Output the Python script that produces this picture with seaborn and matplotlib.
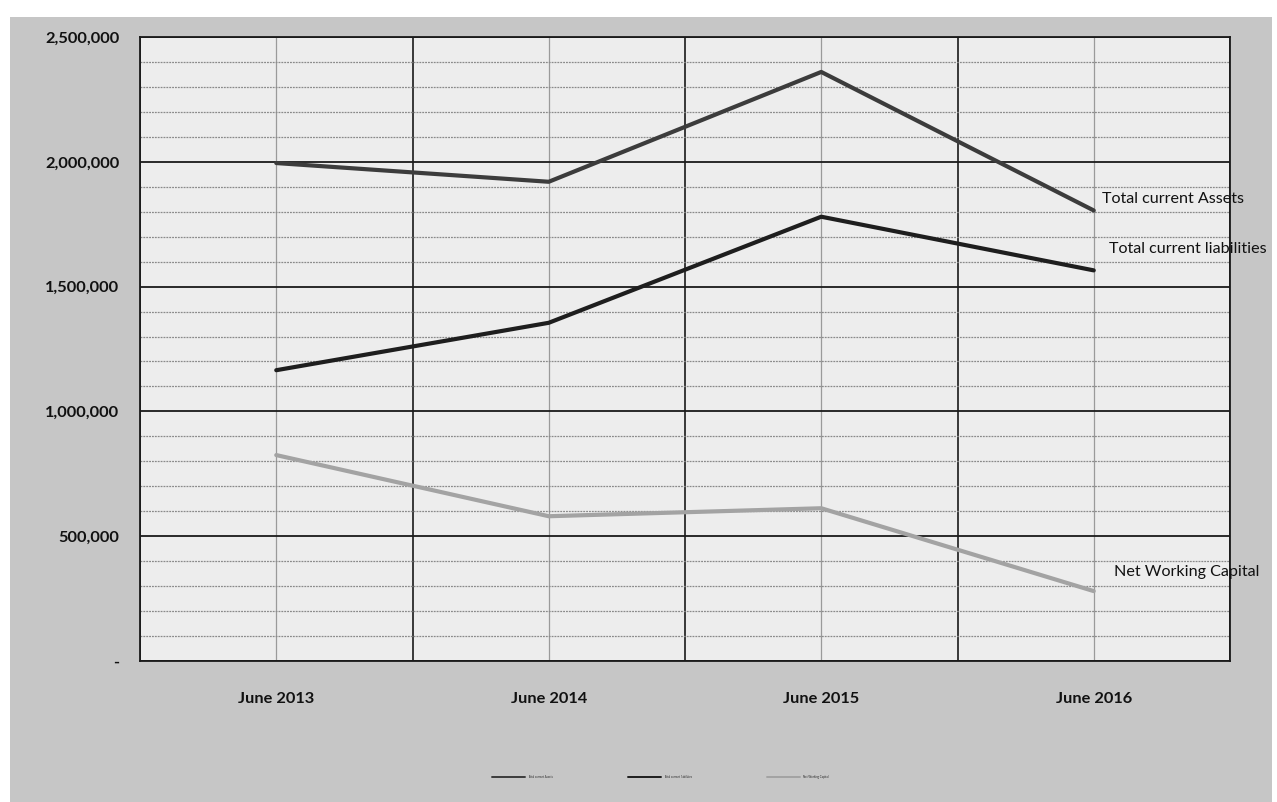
import numpy as np
import pandas as pd
import matplotlib
matplotlib.use("Agg")
import matplotlib.pyplot as plt
from matplotlib.ticker import MultipleLocator, FixedLocator, FuncFormatter
from matplotlib.patches import Rectangle
import seaborn as sns

# ---- data ----
periods = ["June 2013", "June 2014", "June 2015", "June 2016"]
current_assets = [1995000, 1920000, 2360000, 1805000]
current_liabilities = [1165000, 1355000, 1780000, 1565000]
net_working_capital = [825000, 580000, 612000, 280000]
series_names = ["Total current Assets", "Total current liabilities", "Net Working Capital"]
y_ticks = [0, 500000, 1000000, 1500000, 2000000, 2500000]

df = pd.DataFrame({
    "period": periods * 3,
    "value": current_assets + current_liabilities + net_working_capital,
    "series": [s for s in series_names for _ in periods],
})

sns.set_style("white")
plt.rcParams["font.family"] = ["Lato", "DejaVu Sans"]

fig = plt.figure(figsize=(12.77, 8.02), dpi=100, facecolor="white")
# scanned page panel behind everything
fig.patches.append(Rectangle((10 / 1277, 0), 1262 / 1277, 785 / 802,
                             transform=fig.transFigure, facecolor="#c6c6c6",
                             edgecolor="none", zorder=-10))

ax = fig.add_axes([140 / 1277, 1 - 661 / 802, 1090 / 1277, 624 / 802])
ax.set_facecolor("#ededed")

palette = {"Total current Assets": "#3c3c3c",
           "Total current liabilities": "#1e1e1e",
           "Net Working Capital": "#a3a3a3"}
sns.lineplot(data=df, x="period", y="value", hue="series", palette=palette,
             linewidth=3.0, ax=ax, legend=True, sort=False)

ax.set_xlim(-0.5, 3.5)
ax.set_ylim(0, 2500000)

# gridlines: dark at majors / category boundaries, grey at minors / centers
ax.yaxis.set_major_locator(FixedLocator(y_ticks))
ax.yaxis.set_minor_locator(MultipleLocator(100000))
ax.xaxis.set_minor_locator(FixedLocator([-0.5, 0.5, 1.5, 2.5, 3.5]))
ax.grid(True, which="major", axis="y", color="#1a1a1a", linewidth=1.3)
ax.grid(True, which="minor", axis="y", color="#8a8a8a", linewidth=0.9, linestyle=(0, (1.5, 0.8)))
ax.grid(True, which="minor", axis="x", color="#1a1a1a", linewidth=1.2)
ax.grid(True, which="major", axis="x", color="#9a9a9a", linewidth=0.9)
ax.set_axisbelow(True)

for sp in ax.spines.values():
    sp.set_visible(True)
    sp.set_color("#1a1a1a")
    sp.set_linewidth(1.3)

ax.yaxis.set_major_formatter(FuncFormatter(lambda v, p: "-" if v == 0 else f"{int(v):,}"))
ax.tick_params(axis="y", which="major", length=4, width=1, color="#333333", pad=11,
               labelsize=11.8, labelcolor="#111111")
ax.tick_params(axis="y", which="minor", length=0)
ax.tick_params(axis="x", which="major", length=0, pad=22, labelsize=11.8, labelcolor="#111111")
ax.tick_params(axis="x", which="minor", length=4, color="#333333")
for lbl in ax.get_yticklabels() + ax.get_xticklabels():
    lbl.set_fontweight("bold")

ax.set_xlabel("")
ax.set_ylabel("")

# series labels at the right end of each line
label_offsets = {"Total current Assets": (0.03, 4.5e4),
                 "Total current liabilities": (0.055, 8.5e4),
                 "Net Working Capital": (0.075, 7.5e4)}
last_values = {"Total current Assets": current_assets[-1],
               "Total current liabilities": current_liabilities[-1],
               "Net Working Capital": net_working_capital[-1]}
for name in series_names:
    dx, dy = label_offsets[name]
    ax.text(3 + dx, last_values[name] + dy, name, fontsize=11.6, color="#111111",
            ha="left", va="center", clip_on=False)

# compact legend below the plot
handles, labels = ax.get_legend_handles_labels()
ax.legend(handles, labels, loc="center", bbox_to_anchor=(0.477, -0.186),
          ncol=3, frameon=False, fontsize=2, handlelength=12, handletextpad=1,
          columnspacing=27, borderaxespad=0)
for line in ax.get_legend().get_lines():
    line.set_linewidth(1.4)

fig.savefig("out.png", dpi=100, facecolor=fig.get_facecolor())
